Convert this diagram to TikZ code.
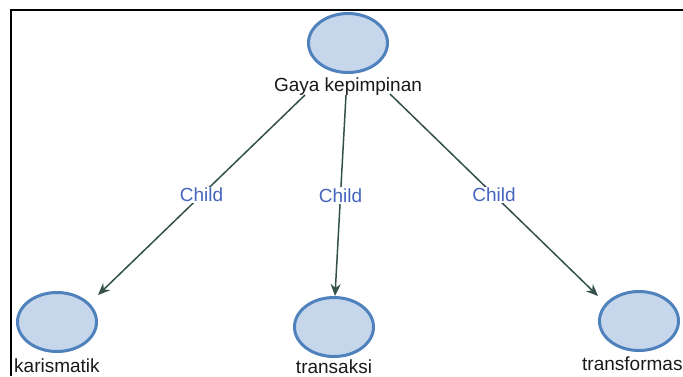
\documentclass[tikz,border=0pt]{standalone}
\usepackage{fontspec}
\setmainfont{Liberation Sans}
\usetikzlibrary{shapes.geometric,arrows.meta}
\definecolor{nodefill}{HTML}{C6D7EB}
\definecolor{nodeline}{HTML}{4F81BD}
\definecolor{edgecol}{HTML}{34504B}
\definecolor{lblcol}{HTML}{4565BF}
\definecolor{txtcol}{HTML}{1A1A1A}
\begin{document}
\begin{tikzpicture}[x=1pt,y=-1pt,
  ent/.style={ellipse, draw=nodeline, line width=3pt, fill=nodefill,
    minimum width=79pt, minimum height=59pt, inner sep=0pt},
  entlabel/.style={text=txtcol, inner sep=0pt, font=\fontsize{19}{22}\selectfont},
  edgearrow/.style={draw=edgecol, line width=1.5pt, -{Stealth[length=12pt,width=10pt]}},
  lbl/.style={fill=white, text=lblcol, inner sep=1.5pt, font=\fontsize{19}{22}\selectfont}
]
\useasboundingbox (0,0) rectangle (683,376);
\fill[white] (0,0) rectangle (683,376);
\draw[line width=2.5pt] (11,376) -- (11,10) -- (683,10);

\node[ent] (top) at (348,43) {};
\node[entlabel, anchor=base] (gk) at (348,91) {Gaya kepimpinan};

\node[ent] (kar) at (57,322) {};
\node[entlabel, anchor=base west] (karl) at (14,372) {karismatik};

\node[ent] (tra) at (334,327) {};
\node[entlabel, anchor=base] (tral) at (334,373) {transaksi};

\node[ent] (tfm) at (639,321) {};
\node[entlabel, anchor=base west] (tfml) at (582,370) {transformas};

\draw[edgearrow] ([shift={(-43,4)}]gk.base) -- node[lbl]{Child} ([shift={(41,-27)}]kar.center);
\draw[edgearrow] ([shift={(-2,4)}]gk.base) -- node[lbl]{Child} ([shift={(1,-31)}]tra.center);
\draw[edgearrow] ([shift={(42,3)}]gk.base) -- node[lbl]{Child} ([shift={(-41,-25)}]tfm.center);
\end{tikzpicture}
\end{document}
